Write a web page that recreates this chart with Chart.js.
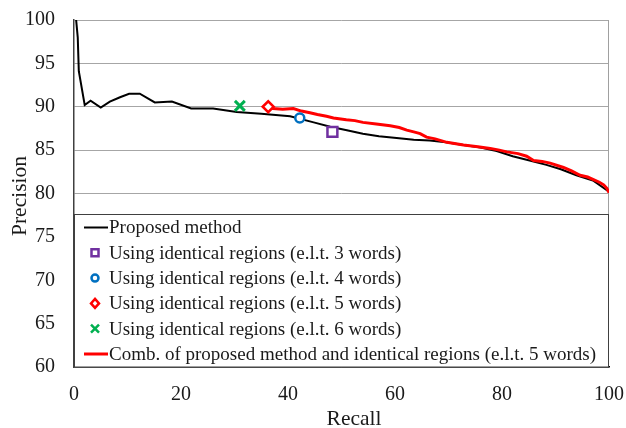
<!DOCTYPE html>
<html>
<head>
<meta charset="utf-8">
<script src="https://cdn.jsdelivr.net/npm/chart.js@4.4.1/dist/chart.umd.min.js"></script>
<style>
  html, body { margin: 0; padding: 0; background: #fff; }
  #wrap { width: 626px; height: 428px; }
</style>
</head>
<body>
<div id="wrap"><canvas id="prChart" width="626" height="428"></canvas></div>
<script>
// Proposed method (black line)
const proposedRecall = [0.4, 0.7, 0.9, 2.0, 3.1, 5.0, 6.7, 8.6, 10.3, 12.3, 15.1, 18.3, 21.9, 26.0, 30.4, 35.0, 40.4, 44.8, 47.9, 51.0, 54.0, 57.0, 60.3, 63.5, 66.5, 69.5, 72.8, 76.0, 79.0, 82.0, 84.6, 88.3, 91.0, 93.9, 97.0, 100];
const proposedPrecision = [100, 98.0, 94.1, 90.2, 90.7, 89.9, 90.6, 91.1, 91.5, 91.5, 90.5, 90.6, 89.8, 89.8, 89.4, 89.2, 88.9, 88.2, 87.7, 87.3, 86.9, 86.6, 86.4, 86.2, 86.1, 85.9, 85.6, 85.3, 84.9, 84.3, 83.9, 83.3, 82.8, 82.1, 81.5, 80.2];

// Combination (red line)
const combRecall = [36.3, 37.2, 39.0, 41.0, 42.5, 44.1, 45.5, 47.2, 48.5, 50.9, 52.5, 54.0, 56.5, 59.1, 60.8, 62.2, 63.5, 64.7, 65.9, 67.5, 69.7, 72.8, 75.5, 77.8, 79.5, 80.9, 83.0, 84.6, 85.9, 87.5, 89.0, 91.5, 93.0, 94.6, 96.0, 97.1, 98.2, 99.0, 99.6, 100];
const combPrecision = [90.0, 89.8, 89.7, 89.8, 89.5, 89.3, 89.1, 88.9, 88.7, 88.5, 88.4, 88.2, 88.0, 87.8, 87.6, 87.3, 87.1, 86.9, 86.5, 86.3, 85.9, 85.6, 85.4, 85.2, 85.0, 84.8, 84.6, 84.3, 83.8, 83.7, 83.5, 83.0, 82.6, 82.1, 81.9, 81.6, 81.3, 81.0, 80.6, 80.1];

// Identical region points: [recall, precision]
const words3 = [48.3, 87.1];
const words4 = [42.2, 88.7];
const words5 = [36.3, 90.0];
const words6 = [31.0, 90.1];

const xTicks = [0, 20, 40, 60, 80, 100];
const yTicks = [60, 65, 70, 75, 80, 85, 90, 95, 100];
const xTitle = 'Recall';
const yTitle = 'Precision';

const FONT = "'Liberation Serif', 'DejaVu Serif', serif";

function toPoints(xs, ys) {
    return xs.map((x, i) => ({ x: x, y: ys[i] }));
}

// drop the extra label padding so layout.padding alone places the plot
function noScalePadding(scale) {
    scale.paddingTop = 0;
    scale.paddingBottom = 0;
    scale.paddingLeft = 0;
    scale.paddingRight = 0;
}

// draw a small marker for the legend
function drawMarker(ctx, style, color, x, y) {
    ctx.save();
    ctx.strokeStyle = color;
    ctx.lineWidth = 2.5;
    ctx.fillStyle = '#fff';
    ctx.beginPath();
    if (style === 'rect') {
        ctx.rect(x - 3.5, y - 3.5, 7, 7);
        ctx.fill(); ctx.stroke();
    } else if (style === 'circle') {
        ctx.arc(x, y, 3.5, 0, Math.PI * 2);
        ctx.fill(); ctx.stroke();
    } else if (style === 'rectRot') {
        ctx.moveTo(x, y - 4.5); ctx.lineTo(x + 4, y); ctx.lineTo(x, y + 4.5); ctx.lineTo(x - 4, y); ctx.closePath();
        ctx.fill(); ctx.stroke();
    } else if (style === 'crossRot') {
        ctx.moveTo(x - 4, y - 4); ctx.lineTo(x + 4, y + 4);
        ctx.moveTo(x + 4, y - 4); ctx.lineTo(x - 4, y + 4);
        ctx.stroke();
    }
    ctx.restore();
}

// axis titles (placed like the original, "Recall" sits a bit right of centre)
const axisTitles = {
    id: 'axisTitles',
    afterDraw(chart) {
        const { ctx } = chart;
        ctx.save();
        ctx.fillStyle = '#1a1a1a';
        ctx.font = '21.5px ' + FONT;
        ctx.textAlign = 'center';
        ctx.textBaseline = 'middle';
        ctx.fillText(xTitle, 354, 419);
        ctx.translate(20, 196);
        ctx.rotate(-Math.PI / 2);
        ctx.fillText(yTitle, 0, 0);
        ctx.restore();
    }
};

// legend box drawn inside the plot area, plus right border of the plot
const innerLegend = {
    id: 'innerLegend',
    beforeDatasetsDraw(chart) {
        const { ctx, chartArea } = chart;
        ctx.save();
        ctx.strokeStyle = '#A0A0A0';
        ctx.lineWidth = 1;
        ctx.beginPath();
        ctx.moveTo(chartArea.right - 0.5, chartArea.top);
        ctx.lineTo(chartArea.right - 0.5, chartArea.bottom);
        ctx.stroke();
        ctx.restore();
    },
    afterDatasetsDraw(chart) {
        const { ctx, chartArea, scales } = chart;
        const top = Math.round(scales.y.getPixelForValue(77.6)) + 0.5;
        const left = chartArea.left + 0.5;
        const right = chartArea.right - 0.5;
        const bottom = chartArea.bottom;
        ctx.save();
        ctx.fillStyle = '#fff';
        ctx.fillRect(left, top, right - left, bottom - top);
        ctx.strokeStyle = '#404040';
        ctx.lineWidth = 1;
        ctx.strokeRect(left, top, right - left, bottom - top);

        ctx.font = '19px ' + FONT;
        ctx.textBaseline = 'middle';
        ctx.textAlign = 'left';
        const legendOrder = [1, 2, 3, 4, 5, 0];
        const rowY0 = top + 13;
        const rowGap = 25.3;
        legendOrder.forEach((dsIndex, row) => {
            const ds = chart.data.datasets[dsIndex];
            const y = rowY0 + row * rowGap;
            if (ds.showLine === false) {
                drawMarker(ctx, ds.pointStyle, ds.borderColor, 95, y);
            } else {
                ctx.strokeStyle = ds.borderColor;
                ctx.lineWidth = ds.borderWidth;
                ctx.beginPath();
                ctx.moveTo(84, y);
                ctx.lineTo(108, y);
                ctx.stroke();
            }
            ctx.fillStyle = '#1a1a1a';
            ctx.fillText(ds.label, 109, y + 1);
        });
        ctx.restore();
    }
};

const ctx = document.getElementById('prChart').getContext('2d');
new Chart(ctx, {
    type: 'scatter',
    data: {
        datasets: [
            {
                label: 'Comb. of proposed method and identical regions (e.l.t. 5 words)',
                data: toPoints(combRecall, combPrecision),
                showLine: true,
                borderColor: '#FF0000',
                borderWidth: 3,
                pointRadius: 0,
                tension: 0,
                order: 2
            },
            {
                label: 'Proposed method',
                data: toPoints(proposedRecall, proposedPrecision),
                showLine: true,
                borderColor: '#000000',
                borderWidth: 2,
                pointRadius: 0,
                tension: 0,
                order: 3
            },
            {
                label: 'Using identical regions (e.l.t. 3 words)',
                data: [{ x: words3[0], y: words3[1] }],
                showLine: false,
                pointStyle: 'rect',
                pointRadius: 7,
                borderColor: '#7030A0',
                backgroundColor: '#ffffff',
                borderWidth: 2.5,
                order: 1
            },
            {
                label: 'Using identical regions (e.l.t. 4 words)',
                data: [{ x: words4[0], y: words4[1] }],
                showLine: false,
                pointStyle: 'circle',
                pointRadius: 4.5,
                borderColor: '#0070C0',
                backgroundColor: '#ffffff',
                borderWidth: 2.5,
                order: 1
            },
            {
                label: 'Using identical regions (e.l.t. 5 words)',
                data: [{ x: words5[0], y: words5[1] }],
                showLine: false,
                pointStyle: 'rectRot',
                pointRadius: 5.5,
                borderColor: '#FF0000',
                backgroundColor: '#ffffff',
                borderWidth: 2.5,
                order: 1
            },
            {
                label: 'Using identical regions (e.l.t. 6 words)',
                data: [{ x: words6[0], y: words6[1] }],
                showLine: false,
                pointStyle: 'crossRot',
                pointRadius: 7,
                borderColor: '#00B050',
                backgroundColor: '#00B050',
                borderWidth: 3,
                order: 1
            }
        ]
    },
    options: {
        responsive: false,
        animation: false,
        devicePixelRatio: 1,
        layout: { padding: { top: 20, right: 17, left: 0, bottom: 0 } },
        plugins: {
            legend: { display: false },
            tooltip: { enabled: false }
        },
        scales: {
            x: {
                type: 'linear',
                min: 0,
                max: 100,
                afterFit: scale => { scale.height = 61; noScalePadding(scale); },
                afterBuildTicks: scale => { scale.ticks = xTicks.map(v => ({ value: v })); },
                grid: { display: false, drawTicks: false },
                border: { color: '#000', width: 1.5 },
                ticks: {
                    padding: 16,
                    color: '#1a1a1a',
                    font: { family: FONT, size: 20 }
                },
                title: { display: false }
            },
            y: {
                type: 'linear',
                min: 60,
                max: 100,
                afterFit: scale => { scale.width = 74; noScalePadding(scale); },
                afterBuildTicks: scale => { scale.ticks = yTicks.map(v => ({ value: v })); },
                grid: { color: '#A6A6A6', lineWidth: 1, drawTicks: false },
                border: { color: '#404040', width: 1.5 },
                ticks: {
                    padding: 19,
                    color: '#1a1a1a',
                    font: { family: FONT, size: 20 }
                },
                title: { display: false }
            }
        }
    },
    plugins: [innerLegend, axisTitles]
});
</script>
</body>
</html>
